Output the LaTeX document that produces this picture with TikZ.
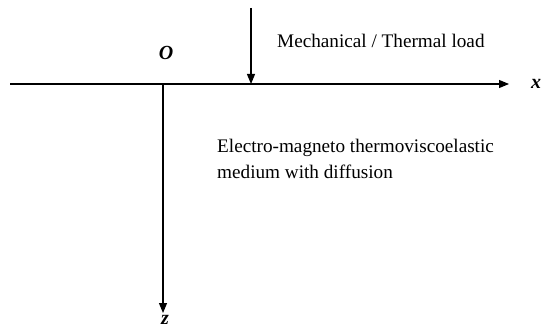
\documentclass[tikz,border=0pt]{standalone}
\usepackage{fontspec}
\setmainfont{Liberation Serif}
\usetikzlibrary{arrows.meta}
\tikzset{
  axis/.style={line width=1.1pt, -{Triangle[length=10pt,width=8pt]}},
  lbl/.style={inner sep=0pt, font=\fontsize{19.2}{26}\selectfont},
  axlbl/.style={inner sep=0pt, font=\fontsize{20}{24}\selectfont\bfseries\itshape}
}
\begin{document}
\begin{tikzpicture}[x=1pt,y=-1pt]
\useasboundingbox (0,0) rectangle (544,329);
\coordinate (xl) at (10,84);
\coordinate (xr) at (509,84);
\coordinate (o) at (163,84);
\coordinate (zb) at (163,313);
\coordinate (lt) at (251,8);
\coordinate (lb) at (251,84);
\draw[axis] (xl) -- (xr);
\draw[axis] (o) -- (zb);
\draw[axis] (lt) -- (lb);
\node[axlbl] (O) at (166,53) {O};
\node[axlbl] (X) at (536,84) {x};
\node[axlbl] (Z) at (165,320) {z};
\node[lbl, anchor=base west] (load) at (277,48) {Mechanical / Thermal load};
\node[lbl, anchor=north west, align=left] (med) at (217,139) {Electro-magneto thermoviscoelastic\\medium with diffusion};
\end{tikzpicture}
\end{document}
